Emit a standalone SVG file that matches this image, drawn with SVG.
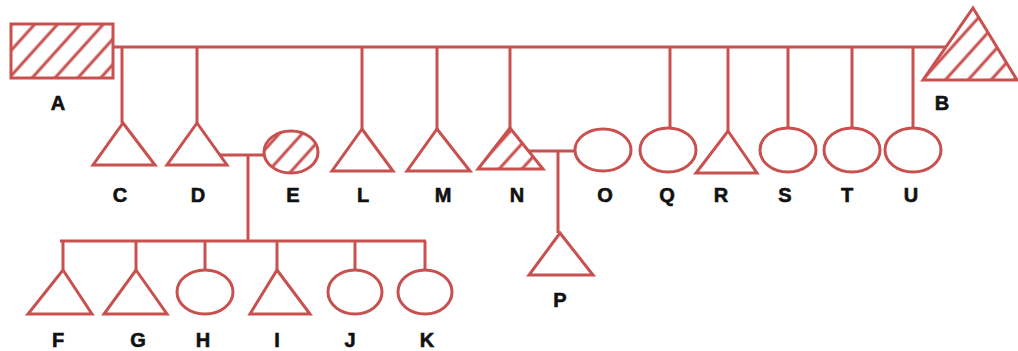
<svg xmlns="http://www.w3.org/2000/svg" width="1018" height="351" viewBox="0 0 1018 351">
<style>
.s{fill:#fff;stroke:#c8504f;stroke-width:3}
.h{fill:url(#hatch);stroke:#c8504f;stroke-width:3}
.c line{stroke:#c8504f;stroke-width:3}
text{font-family:"Liberation Sans",Arial,sans-serif;font-weight:bold;font-size:20px;fill:#111;stroke:#111;stroke-width:0.6;text-anchor:middle}
</style>
<defs>
<pattern id="hatch" width="17" height="17" patternUnits="userSpaceOnUse" patternTransform="rotate(42)">
<rect width="17" height="17" fill="#fff"/>
<line x1="8" y1="0" x2="8" y2="17" stroke="#c8504f" stroke-width="3"/>
</pattern>
</defs>
<rect width="1018" height="351" fill="#fff"/>
<g class="c" id="connectors">
<line x1="113" y1="47" x2="949" y2="47"/>
<line x1="122" y1="47" x2="122" y2="123"/>
<line x1="197" y1="47" x2="197" y2="123"/>
<line x1="362" y1="47" x2="362" y2="129"/>
<line x1="437" y1="47" x2="437" y2="129"/>
<line x1="510" y1="47" x2="510" y2="128"/>
<line x1="670" y1="47" x2="670" y2="128"/>
<line x1="728" y1="47" x2="728" y2="131"/>
<line x1="788" y1="47" x2="788" y2="128"/>
<line x1="852" y1="47" x2="852" y2="128"/>
<line x1="913" y1="47" x2="913" y2="128"/>
<line x1="220" y1="155" x2="264" y2="155"/>
<line x1="248" y1="155" x2="248" y2="241"/>
<line x1="60" y1="241" x2="426" y2="241"/>
<line x1="63" y1="241" x2="63" y2="270"/>
<line x1="136" y1="241" x2="136" y2="270"/>
<line x1="205" y1="241" x2="205" y2="270"/>
<line x1="277" y1="241" x2="277" y2="270"/>
<line x1="355" y1="241" x2="355" y2="270"/>
<line x1="425" y1="241" x2="425" y2="270"/>
<line x1="528" y1="151" x2="576" y2="151"/>
<line x1="558" y1="151" x2="558" y2="233"/>
</g>
<g id="A"><rect class="h" x="11" y="24" width="102" height="54"/><text x="58" y="110">A</text></g>
<g id="B"><polygon class="h" points="973,8 1017,80 923,80"/><text x="942" y="110">B</text></g>
<g id="C"><polygon class="s" points="123,123 155,165 93,165"/><text x="120" y="202">C</text></g>
<g id="D"><polygon class="s" points="197,123 227,165 167,165"/><text x="198" y="202">D</text></g>
<g id="E"><ellipse class="h" cx="291" cy="152" rx="27" ry="21"/><text x="293" y="202">E</text></g>
<g id="L"><polygon class="s" points="362,129 393,171 332,171"/><text x="363" y="202">L</text></g>
<g id="M"><polygon class="s" points="437,129 470,171 407,171"/><text x="443" y="202">M</text></g>
<g id="N"><polygon class="h" points="510,128 543,169 478,169"/><text x="517" y="202">N</text></g>
<g id="O"><ellipse class="s" cx="603" cy="150" rx="28" ry="21"/><text x="605" y="202">O</text></g>
<g id="Q"><ellipse class="s" cx="668" cy="150" rx="28" ry="22"/><text x="667" y="202">Q</text></g>
<g id="R"><polygon class="s" points="728,131 757,173 696,173"/><text x="721" y="202">R</text></g>
<g id="S"><ellipse class="s" cx="788" cy="150" rx="28" ry="22"/><text x="785" y="202">S</text></g>
<g id="T"><ellipse class="s" cx="852" cy="150" rx="28" ry="22"/><text x="847" y="202">T</text></g>
<g id="U"><ellipse class="s" cx="913" cy="150" rx="28" ry="22"/><text x="911" y="202">U</text></g>
<g id="P"><polygon class="s" points="560,233 593,275 529,275"/><text x="560" y="307">P</text></g>
<g id="F"><polygon class="s" points="63,270 92,314 28,314"/><text x="58" y="347">F</text></g>
<g id="G"><polygon class="s" points="136,270 167,314 104,314"/><text x="138" y="347">G</text></g>
<g id="H"><ellipse class="s" cx="205" cy="292" rx="28" ry="22"/><text x="203" y="347">H</text></g>
<g id="I"><polygon class="s" points="277,270 310,314 250,314"/><text x="277" y="347">I</text></g>
<g id="J"><ellipse class="s" cx="355" cy="292" rx="27" ry="22"/><text x="350" y="347">J</text></g>
<g id="K"><ellipse class="s" cx="425" cy="292" rx="27" ry="22"/><text x="427" y="347">K</text></g>
</svg>
